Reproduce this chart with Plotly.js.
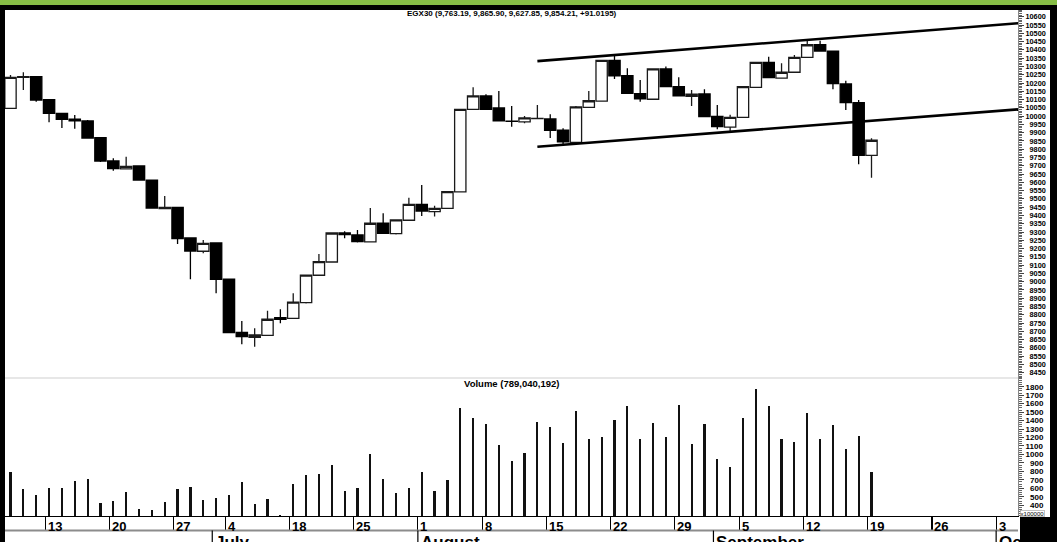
<!DOCTYPE html>
<html><head><meta charset="utf-8">
<script src="https://cdn.plot.ly/plotly-3.0.1.min.js"></script>
<style>html,body{margin:0;padding:0;background:#fff;overflow:hidden}#chart{width:1057px;height:542px}</style>
</head><body><div id="chart"></div>
<script>
// ---- data (EGX30 daily, trading-day index 0..67) ----
const openP  = [10047,10234,10238,10099,10017,9981,9971,9870,9729,9681,9699,9614,9441,9449,9264,9184,9234,9016,8694,8664,8676,8783,8779,8873,9039,9119,9294,9282,9240,9353,9290,9371,9467,9423,9443,9542,10041,10122,10049,9970,9965,9985,9983,9916,9841,10053,10091,10337,10244,10136,10102,10285,10178,10120,10134,9999,9933,9993,10174,10325,10229,10265,10355,10431,10392,10194,10081,9763.19];
const highP  = [10248,10265,10242,10101,10020,10007,9977,9872,9745,9755,9700,9616,9518,9451,9265,9252,9236,9018,8763,8719,8825,8833,8930,9042,9167,9296,9304,9312,9445,9413,9375,9507,9584,9459,9545,10043,10174,10132,10152,10061,10001,10067,10011,9927,10061,10152,10340,10365,10289,10218,10287,10299,10235,10158,10162,10067,10009,10180,10327,10359,10319,10369,10456,10456,10394,10214,10097,9865.90];
const lowP   = [10045,10158,10087,9963,9928,9924,9866,9723,9670,9679,9612,9443,9439,9228,9014,9172,8930,8689,8622,8607,8674,8749,8777,8868,9037,9117,9262,9237,9238,9290,9285,9369,9397,9393,9441,9540,10040,10040,9969,9936,9957,9981,9868,9826,9832,10052,10090,10224,10136,10087,10100,10176,10121,10061,9995,9920,9910,9991,10172,10230,10227,10263,10354,10391,10162,10037,9709,9627.85];
const closeP = [10234,10238,10097,10017,9981,9971,9868,9729,9683,9697,9614,9445,9449,9260,9185,9232,9014,8692,8668,8678,8773,8773,8876,9040,9121,9294,9284,9242,9353,9292,9373,9467,9427,9443,9544,10041,10122,10041,9971,9969,9989,9987,9914,9844,10056,10093,10337,10244,10138,10105,10285,10178,10123,10132,9997,9936,9993,10178,10325,10232,10265,10355,10431,10393,10196,10081,9763.19,9854.21];
// volume in units of 1,000,000
const volume = [796,592,517,604,607,686,706,427,454,556,359,340,438,595,612,458,482,517,675,415,477,281,651,754,765,879,565,600,1009,706,548,604,789,572,698,1552,1427,1359,1111,923,1013,1387,1324,1139,1513,1182,1206,1407,1569,1182,1371,1202,1584,1127,1359,946,852,1427,1769,1572,1182,1150,1486,1179,1348,1061,1218,789.04];

// date axis (trading-day index of each labelled Monday)
const weekTickIdx  = [3,8,13,17,22,27,32,37,42,47,52,57,62,67,72,77];
const weekTickText = ['13','20','27','4','18','25','1','8','15','22','29','5','12','19','26','3'];
const monthIdx  = [16,32,55,77];
const monthText = ['July','August','September','October'];

// channel trend lines (index, price)
const upperLineIdx = [41, 78.4], upperLineVal = [10332, 10561];
const lowerLineIdx = [41, 78.4], lowerLineVal = [9815, 10041];

// axis tick values
const priceTicks = []; for (let v = 8450; v <= 10600; v += 50) priceTicks.push(v);
const volTicks = [400,500,600,700,800,900,1000,1100,1200,1300,1400,1500,1600,1700,1800];

const titleText = 'EGX30 (9,763.19, 9,865.90, 9,627.85, 9,854.21, +91.0195)';
const volTitleText = 'Volume (789,040,192)';

// ---- layout geometry (pixels) ----
const Wpx = 1057, Hpx = 542, L = 5, R = 1018, T = 10, B = 516, SPLIT = 378;
const px2x = px => (px - L) / (R - L);
const py2y = py => (B - py) / (B - T);
const FONT = 'Liberation Sans, Arial, sans-serif';
const TICKSHIFT = -0.3;

const idx = openP.map((_, i) => i);
const pad = (s, n) => '\u2007'.repeat(Math.max(0, n - s.length)) + s;

const traces = [
  {
    type: 'candlestick', x: idx, open: openP, high: highP, low: lowP, close: closeP,
    xaxis: 'x', yaxis: 'y', whiskerwidth: 0, hoverinfo: 'skip',
    increasing: {line: {color: '#1a1a1a', width: 1.3}, fillcolor: '#ffffff'},
    decreasing: {line: {color: '#000000', width: 1.3}, fillcolor: '#000000'}
  },
  {
    type: 'bar', x: idx, y: volume, xaxis: 'x', yaxis: 'y2', width: 0.17,
    marker: {color: '#111111', line: {width: 0}}, hoverinfo: 'skip'
  }
];

const shapes = [
  {type: 'line', xref: 'x', yref: 'y', x0: upperLineIdx[0], x1: upperLineIdx[1], y0: upperLineVal[0], y1: upperLineVal[1], line: {color: '#000', width: 2.6}},
  {type: 'line', xref: 'x', yref: 'y', x0: lowerLineIdx[0], x1: lowerLineIdx[1], y0: lowerLineVal[0], y1: lowerLineVal[1], line: {color: '#000', width: 2.6}},
  // panel separator
  {type: 'line', xref: 'paper', yref: 'paper', x0: 0, x1: 1, y0: py2y(SPLIT), y1: py2y(SPLIT), line: {color: '#d0d0d0', width: 1.2}},
  // grey line under day labels
  {type: 'line', xref: 'paper', yref: 'paper', x0: 0, x1: 1, y0: py2y(530.6), y1: py2y(530.6), line: {color: '#8c8c8c', width: 2}},
  // frame: green band, black top bar, left and right bars
  {type: 'rect', xref: 'paper', yref: 'paper', x0: px2x(0), x1: px2x(Wpx), y0: py2y(5), y1: py2y(0), line: {width: 0}, fillcolor: '#86bd45'},
  {type: 'rect', xref: 'paper', yref: 'paper', x0: px2x(0), x1: px2x(Wpx), y0: py2y(10), y1: py2y(5), line: {width: 0}, fillcolor: '#000'},
  {type: 'rect', xref: 'paper', yref: 'paper', x0: px2x(0), x1: px2x(5), y0: py2y(Hpx), y1: py2y(5), line: {width: 0}, fillcolor: '#000'},
  {type: 'rect', xref: 'paper', yref: 'paper', x0: px2x(1050), x1: px2x(Wpx), y0: py2y(Hpx), y1: py2y(5), line: {width: 0}, fillcolor: '#000'}
];
monthIdx.forEach(m => shapes.push({type: 'line', xref: 'x', yref: 'paper', x0: m + TICKSHIFT, x1: m + TICKSHIFT, y0: py2y(530.6), y1: py2y(Hpx), line: {color: '#000', width: 1.2}}));

const annotations = [
  {text: titleText, xref: 'paper', yref: 'paper', x: 0.5, y: py2y(14), xanchor: 'center', yanchor: 'middle', showarrow: false, font: {family: FONT, size: 8, color: '#000', weight: 'bold'}},
  {text: volTitleText, xref: 'paper', yref: 'paper', x: 0.5, y: py2y(383), xanchor: 'center', yanchor: 'middle', showarrow: false, font: {family: FONT, size: 9.5, color: '#000', weight: 'bold'}}
];
weekTickIdx.forEach((t, i) => annotations.push({text: weekTickText[i], xref: 'x', yref: 'paper', x: t + TICKSHIFT, y: py2y(516.5), xanchor: 'left', yanchor: 'top', xshift: 0.5, showarrow: false, font: {family: FONT, size: 13, color: '#000', weight: 'bold'}}));
monthIdx.forEach((m, i) => annotations.push({text: monthText[i], xref: 'x', yref: 'paper', x: m + TICKSHIFT, y: py2y(530.5), xanchor: 'left', yanchor: 'top', xshift: 1, showarrow: false, font: {family: FONT, size: 17, color: '#000', weight: 'bold'}}));
// black block in the lower-right corner (covers the end of the month row), then the unit box
annotations.push({text: ' ', xref: 'paper', yref: 'paper', x: px2x(1020), y: py2y(517), xanchor: 'left', yanchor: 'top', width: 37, height: 25, bgcolor: '#000', borderpad: 0, borderwidth: 0, showarrow: false, font: {size: 6}});
annotations.push({text: 'x100000', xref: 'paper', yref: 'paper', x: px2x(1020), y: py2y(513), xanchor: 'left', yanchor: 'middle', showarrow: false, font: {family: FONT, size: 6, color: '#000'}, bgcolor: '#fff', bordercolor: '#999', borderwidth: 0.6, borderpad: 0});

const layout = {
  width: Wpx, height: Hpx,
  margin: {l: L, r: Wpx - R, t: T, b: Hpx - B, pad: 0},
  paper_bgcolor: '#fff', plot_bgcolor: '#fff',
  showlegend: false, boxgap: 0.12, boxgroupgap: 0, bargap: 0,
  font: {family: FONT, color: '#000'},
  xaxis: {
    anchor: 'y2', range: [-0.428, 78.4], rangeslider: {visible: false},
    showgrid: false, zeroline: false, showline: true, linecolor: '#000', linewidth: 1,
    tickmode: 'array', tickvals: weekTickIdx.map(v => v + TICKSHIFT), ticktext: weekTickText,
    ticks: 'outside', ticklen: 14, tickwidth: 1.2, tickcolor: '#000', showticklabels: false
  },
  yaxis: {
    domain: [py2y(SPLIT), 1], anchor: 'x', side: 'right', range: [8418.3, 10641],
    showgrid: false, zeroline: false, showline: true, linecolor: '#888', linewidth: 1,
    tickmode: 'array', tickvals: priceTicks, ticktext: priceTicks.map(v => pad(String(v), 5)),
    ticks: 'outside', ticklen: 5, tickwidth: 1, tickcolor: '#444',
    minor: {dtick: 10, ticklen: 2.5, tickcolor: '#666', ticks: 'outside', showgrid: false},
    tickfont: {family: FONT, size: 7.3, color: '#000', weight: 'bold'}
  },
  yaxis2: {
    domain: [0, py2y(SPLIT)], anchor: 'x', side: 'right', range: [273, 1903],
    showgrid: false, zeroline: false, showline: true, linecolor: '#888', linewidth: 1,
    tickmode: 'array', tickvals: volTicks, ticktext: volTicks.map(v => pad(String(v), 4)),
    ticks: 'outside', ticklen: 5, tickwidth: 1, tickcolor: '#444',
    minor: {dtick: 25, ticklen: 2.5, tickcolor: '#666', ticks: 'outside', showgrid: false},
    tickfont: {family: FONT, size: 8, color: '#000', weight: 'bold'}
  },
  shapes: shapes, annotations: annotations
};

Plotly.newPlot('chart', traces, layout, {displayModeBar: false, staticPlot: true});
</script></body></html>
